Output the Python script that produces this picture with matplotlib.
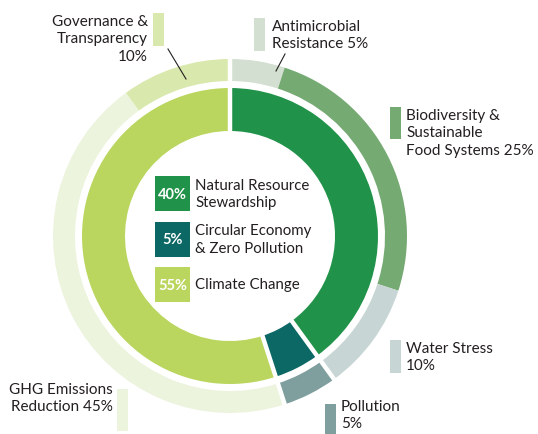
import matplotlib.pyplot as plt
import numpy as np

# inner ring: themes
inner_labels = ["Natural Resource\nStewardship", "Circular Economy\n& Zero Pollution", "Climate Change"]
inner_values = [40, 5, 55]
inner_colors = ["#21924a", "#0b6864", "#bad65e"]

# outer ring: sub-themes
outer_labels = ["Antimicrobial\nResistance 5%", "Biodiversity &\nSustainable\nFood Systems 25%",
                "Water Stress\n10%", "Pollution\n5%", "GHG Emissions\nReduction 45%",
                "Governance &\nTransparency\n10%"]
outer_values = [5, 25, 10, 5, 45, 10]
outer_colors = ["#d3dfd0", "#75aa73", "#c7d6d5", "#7f9f9f", "#ecf4de", "#d9e8ad"]

W, H = 538, 435
fig = plt.figure(figsize=(W / 100, H / 100), dpi=100)
ax = fig.add_axes([0, 0, 1, 1])

cx, cy = 230, H - 237
font = "Lato"
tc = "#231f20"

ax.pie(outer_values, colors=outer_colors, radius=177, center=(cx, cy), startangle=90,
       counterclock=False, wedgeprops=dict(width=22, linewidth=0))
ax.pie(inner_values, colors=inner_colors, radius=148, center=(cx, cy), startangle=90,
       counterclock=False, wedgeprops=dict(width=43, linewidth=0))

# white gaps at the theme boundaries
bounds = np.concatenate([[0], np.cumsum(inner_values)[:-1]])
for b in bounds:
    t = np.deg2rad(90 - 360 * b / 100)
    ax.plot([cx + 100 * np.cos(t), cx + 182 * np.cos(t)],
            [cy + 100 * np.sin(t), cy + 182 * np.sin(t)], color="white", lw=3.2,
            solid_capstyle="butt")

ax.set_xlim(0, W)
ax.set_ylim(0, H)
ax.set_aspect("auto")
ax.axis("off")

# centre legend
for i, (lab, val, col) in enumerate(zip(inner_labels, inner_values, inner_colors)):
    top = 177 + i * 45.5
    ax.add_patch(plt.Rectangle((155, H - top - 35), 35, 35, color=col, lw=0))
    ax.text(172.5, H - top - 18, f"{val}%", color="white", fontsize=10.5, fontweight="bold",
            ha="center", va="center", family=font)
    ax.text(195, H - top - 17.5, lab, color=tc, fontsize=10.8, ha="left", va="center",
            family=font, linespacing=1.3)

# outer labels: (swatch x, swatch top, swatch bottom, text x, text top, text align)
spots = [
    (254, 19, 52, 272, 20, "left"),
    (390, 108, 140, 406, 109, "left"),
    (390, 341, 374, 406, 342, "left"),
    (325, 405, 435, 341, 400, "left"),
    (117, 390, 432, 113, 383, "right"),
    (153, 14, 47, 148, 15, "right"),
]
for lab, col, (sx, st, sb, tx, ty, al) in zip(outer_labels, outer_colors, spots):
    ax.add_patch(plt.Rectangle((sx, H - sb), 11, sb - st, color=col, lw=0))
    ax.text(tx, H - ty, lab, color=tc, fontsize=11, ha=al, va="top",
            family=font, linespacing=1.3, multialignment=al)

# leader lines
ax.plot([285, 276], [H - 55, H - 72], color=tc, lw=0.8)
ax.plot([168, 186], [H - 50, H - 80], color=tc, lw=0.8)

fig.savefig("out.png", dpi=100)
